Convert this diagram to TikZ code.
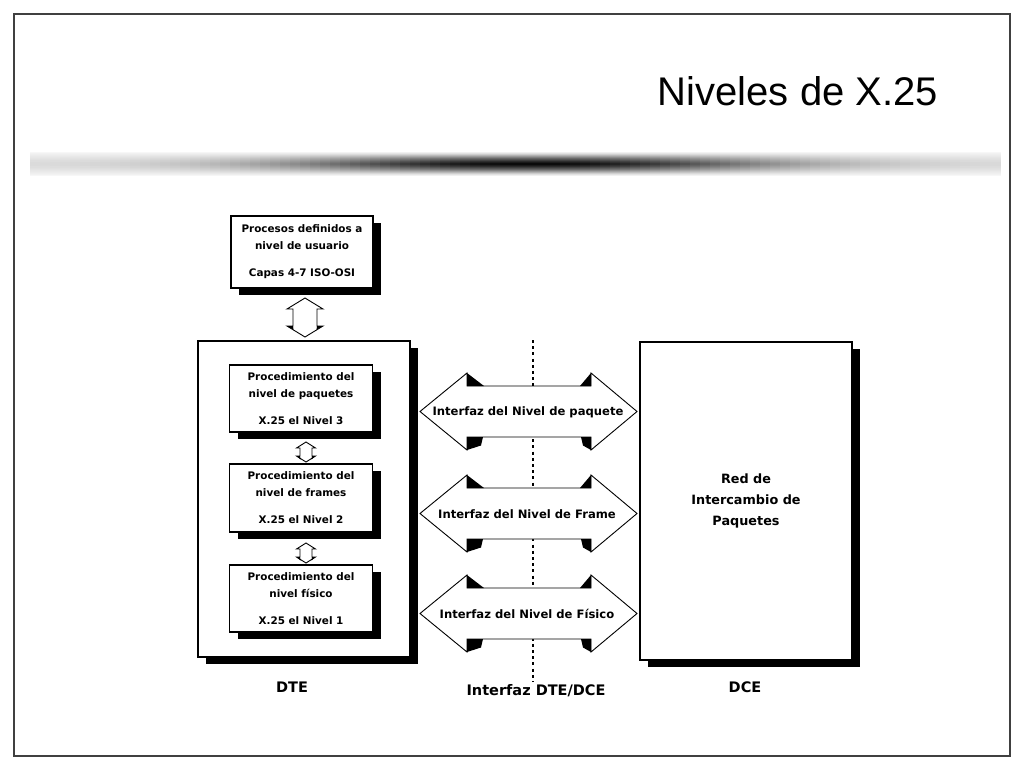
\documentclass[tikz,border=0pt]{standalone}
\usepackage{fontspec}
\setmainfont{Liberation Sans}
\newfontfamily\dfont{DejaVu Sans}
\usetikzlibrary{shadows}
\tikzset{
  blockarrow/.style={draw=black, line width=0.9pt, fill=white, line join=miter},
  pics/vdarr/.style args={#1/#2/#3/#4}{code={%
    \path[blockarrow] (0,-#1) -- (#2,{-#1+#4}) -- (#3,{-#1+#4}) -- (#3,{#1-#4}) -- (#2,{#1-#4})
      -- (0,#1) -- (-#2,{#1-#4}) -- (-#3,{#1-#4}) -- (-#3,{-#1+#4}) -- (-#2,{-#1+#4}) -- cycle;
    \fill (-#2,{#1-#4}) -- (-#3,{#1-#4}) -- ({-#3+0.5},{#1-#4+3.5}) -- cycle;
    \fill (#2,{#1-#4}) -- (#3,{#1-#4}) -- ({#3-0.5},{#1-#4+3.5}) -- cycle;
  }},
  pics/hdarr/.style={code={%
    \path[blockarrow] (420,0) -- (467,-38.5) -- (467,-25.5) -- (591,-25.5) -- (591,-38.5) -- (637,0)
      -- (591,38.5) -- (591,25.5) -- (467,25.5) -- (467,38.5) -- cycle;
    \fill (467,-38.5) -- (467,-25.5) -- (484,-25.5) -- cycle;
    \fill (591,-38.5) -- (591,-25.5) -- (580,-25.5) -- cycle;
    \fill (467,25.5) -- (483,25.5) -- (481,34) -- (467,38.5) -- cycle;
    \fill (581,25.5) -- (591,25.5) -- (591,38.5) -- (583,34) -- cycle;
  }},
}
\begin{document}
\begin{tikzpicture}[x=1pt,y=-1pt,
  every node/.style={inner sep=0pt, outer sep=0pt},
  lvlbox/.style={draw, line width=1.3pt, fill=white, align=center,
     font=\dfont\bfseries\fontsize{10.4}{17}\selectfont,
     drop shadow={shadow xshift=8pt, shadow yshift=-7pt, fill=black, opacity=1}},
  bigbox/.style={draw, line width=1.4pt, fill=white, align=center,
     font=\dfont\bfseries\fontsize{12.8}{21}\selectfont,
     drop shadow={shadow xshift=8pt, shadow yshift=-7pt, fill=black, opacity=1}},
  arrowlabel/.style={font=\dfont\bfseries\fontsize{11.6}{13}\selectfont},
  caption/.style={font=\dfont\bfseries\fontsize{14.5}{16}\selectfont, anchor=base},
  dotline/.style={line width=2.8pt, dash pattern=on 3pt off 3.2pt},
]
\useasboundingbox (0,0) rectangle (1024,768);
\fill[white] (0,0) rectangle (1024,768);
% slide frame
\draw[line width=1.5pt, black!75] (14,14) rectangle (1010,756);
% title
\node[anchor=base east, font=\fontsize{40}{40}\selectfont] (title) at (938,105) {Niveles de X.25};
% gradient band: slices along x, nested strips along y
\foreach \xi in {0,...,96}{
  \pgfmathsetmacro\xa{30+10*\xi}
  \pgfmathsetmacro\g{exp(-((\xa+5-530)/240)^2)}
  \foreach \h/\e/\m in {12/3/6, 11/5/12, 10/6/20, 9/7/30, 8/8/40, 7/9/50, 6/10/60, 5/11/68, 4/12/76, 3/12/84, 2/13/90, 1/13/96}{
    \pgfmathsetmacro\c{\e+(\m-\e)*\g}
    \fill[black!\c] (\xa,163.5-\h) rectangle (\xa+10.6,163.5+\h);
  }
}

% DTE side
\node[lvlbox, minimum width=142pt, minimum height=72pt] (usr) at (302,252)
  {Procesos definidos a\\nivel de usuario\\[10pt]Capas 4-7 ISO-OSI};
\node[bigbox, minimum width=212pt, minimum height=316pt] (dte) at (304,499) {};
\node[lvlbox, minimum width=143pt, minimum height=67pt] (n3) at (301,398.5)
  {Procedimiento del\\nivel de paquetes\\[10pt]X.25 el Nivel 3};
\node[lvlbox, minimum width=143pt, minimum height=68pt] (n2) at (301,498)
  {Procedimiento del\\nivel de frames\\[10pt]X.25 el Nivel 2};
\node[lvlbox, minimum width=143pt, minimum height=67pt] (n1) at (301,598.5)
  {Procedimiento del\\nivel físico\\[10pt]X.25 el Nivel 1};
\pic at (305,317.5) {vdarr={19.5/18/12/11}};
\pic at (306,452) {vdarr={10/9.5/6/6}};
\pic at (306,553) {vdarr={10/9.5/6/6}};
\node[caption] (dtelbl) at (292,692) {DTE};

% interface line
\coordinate (dtop) at (533,340);
\coordinate (dbot) at (533,682);
\draw[dotline] (dtop) -- (dbot);
\pic at (0,411.5) {hdarr};
\pic at (0,513.5) {hdarr};
\pic at (0,613.5) {hdarr};
\node[arrowlabel] (i3) at (528,412) {Interfaz del Nivel de paquete};
\node[arrowlabel] (i2) at (527,514) {Interfaz del Nivel de Frame};
\node[arrowlabel] (i1) at (527,614) {Interfaz del Nivel de Físico};
\node[caption] (ifz) at (536,695) {Interfaz DTE/DCE};

% DCE side
\node[bigbox, minimum width=212pt, minimum height=318pt] (dce) at (746,501)
  {Red de\\Intercambio de\\Paquetes};
\node[caption] (dcelbl) at (745,692) {DCE};
\end{tikzpicture}
\end{document}
